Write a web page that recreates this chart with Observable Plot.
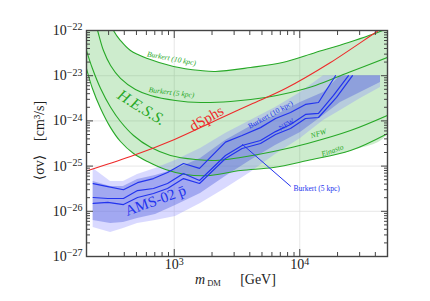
<!DOCTYPE html>
<html><head><meta charset="utf-8">
<script src="https://cdn.jsdelivr.net/npm/d3@7"></script>
<script src="https://cdn.jsdelivr.net/npm/@observablehq/plot@0.6"></script>
<style>body{margin:0;background:#fff;}</style>
</head><body><div id="chart"></div>
<script>
// ---------- data (m in GeV, sigma v in cm^3/s) ----------
const hessBurkert10M = [306, 328, 373, 448, 612, 987, 1619, 2132, 4050, 7286, 13350, 24450, 45610, 54800];
const hessBurkert10S = [1.66e-22, 1.0e-22, 6.0e-23, 3.6e-23, 2.4e-23, 1.6e-23, 1.3e-23, 1.24e-23, 1.52e-23, 1.96e-23, 3.26e-23, 5.43e-23, 1.0e-22, 1.29e-22];
const hessBurkert5M = [232, 245, 273, 311, 373, 491, 647, 1023, 1619, 2807, 5333, 8436, 13350, 24450, 50000];
const hessBurkert5S = [1.66e-22, 1.0e-22, 3.6e-23, 1.68e-23, 8.7e-24, 4.95e-24, 3.65e-24, 2.83e-24, 2.55e-24, 2.69e-24, 3.3e-24, 4.25e-24, 6.07e-24, 1.18e-23, 2.53e-23];
const hessNfwM = [200, 223, 259, 311, 373, 474, 647, 934, 1477, 2132, 3372, 6176, 11520, 25360, 50000];
const hessNfwS = [3.6e-23, 1.44e-23, 5.2e-24, 2.0e-24, 9.7e-25, 4.75e-25, 2.6e-25, 1.72e-25, 1.4e-25, 1.33e-25, 1.55e-25, 2.1e-25, 3.16e-25, 6.1e-25, 1.32e-24];
const hessEinastoM = [200, 223, 259, 311, 373, 474, 612, 852, 1229, 1945, 3372, 6176, 11520, 25360, 50000];
const hessEinastoS = [1.44e-23, 5.2e-24, 1.88e-24, 7.1e-25, 3.5e-25, 1.9e-25, 1.26e-25, 8.4e-26, 6.5e-26, 6.2e-26, 8.0e-26, 9.3e-26, 1.33e-25, 2.21e-25, 5.26e-25];

const dsphM = [200, 448, 1005, 2132, 4050, 7697, 17570, 42390, 54800];
const dsphS = [7.8e-26, 1.63e-25, 3.9e-25, 1.02e-24, 2.3e-24, 5.2e-24, 1.96e-23, 1.0e-22, 1.58e-22];

const amsBurkert10M = [226, 296, 394, 510, 683, 884, 1185, 1590, 2560, 3470, 4865, 6408, 8436, 11110, 14100, 19260];
const amsBurkert10S = [4.1e-26, 3.5e-26, 3.0e-26, 4.3e-26, 5.3e-26, 7.2e-26, 1.14e-25, 8.9e-26, 3.4e-25, 4.75e-25, 7.1e-25, 1.13e-24, 1.53e-24, 2.31e-24, 2.55e-24, 1.0e-23];
const amsBurkert5M = [226, 296, 394, 510, 683, 884, 1185, 1590, 2560, 3470, 4865, 6408, 8436, 11110, 14100, 18570, 24450];
const amsBurkert5S = [2.02e-26, 1.92e-26, 1.92e-26, 2.88e-26, 3.19e-26, 4.12e-26, 6.86e-26, 4.8e-26, 1.72e-25, 2.86e-25, 3.68e-25, 5.8e-25, 8.3e-25, 1.39e-24, 1.46e-24, 3.65e-24, 1.0e-23];
const amsNfwM = [226, 296, 394, 510, 683, 884, 1185, 1590, 2560, 3470, 4865, 6408, 8436, 11110, 14100, 19630, 26300];
const amsNfwS = [1.49e-26, 1.57e-26, 1.41e-26, 2.02e-26, 2.48e-26, 3.19e-26, 5.3e-26, 4.12e-26, 1.47e-25, 2.45e-25, 3.16e-25, 5.0e-25, 6.8e-25, 1.13e-24, 1.19e-24, 3.3e-24, 1.0e-23];

const bandM   = [226, 311, 394, 510, 709, 1023, 1619, 2561, 4050, 6408, 10130, 15460, 21110, 30460, 43970];
const outerLo = [4.38e-27, 3.4e-27, 4.16e-27, 5.37e-27, 6.25e-27, 7.67e-27, 1.49e-26, 3.19e-26, 7.2e-26, 1.81e-25, 4.08e-25, 1.02e-24, 1.7e-24, 3.13e-24, 5.48e-24];
const outerHi = [8.85e-26, 4.56e-26, 4.56e-26, 6.5e-26, 8.85e-26, 1.33e-25, 2.45e-25, 5.26e-25, 1.02e-24, 1.98e-24, 4.25e-24, 1e-23, 1e-23, 1e-23, 1e-23];
const innerLo = [6.25e-27, 5.37e-27, 5.65e-27, 6.93e-27, 8.49e-27, 1.34e-26, 2.48e-26, 5.9e-26, 1.33e-25, 2.86e-25, 5.53e-25, 1.32e-24, 2.55e-24, 4.25e-24, 7.08e-24];
const innerHi = [4.56e-26, 3.54e-26, 3.54e-26, 5.06e-26, 6.2e-26, 8.4e-26, 1.47e-25, 3.68e-25, 7.5e-25, 1.32e-24, 2.55e-24, 4.25e-24, 1e-23, 1e-23, 1e-23];

const calloutM = [3498, 8436];
const calloutS = [3.0e-25, 3.6e-26];

const greenLabelText = ["Burkert (10 kpc)", "Burkert (5 kpc)", "NFW", "Einasto"];
const greenLabelM = [951, 951, 14100, 18230];
const greenLabelS = [2.4e-23, 4.25e-24, 5.26e-25, 2.21e-25];
const greenLabelAngle = [11, 7, -17, -20];

const blueLabelText = ["Burkert (10 kpc)", "NFW"];
const blueLabelM = [5847, 7840];
const blueLabelS = [1.39e-24, 8.3e-25];
const blueLabelAngle = [-29, -30];

const xMajor = [1e3, 1e4];
const yMajor = [1e-27, 1e-26, 1e-25, 1e-24, 1e-23, 1e-22];
const xMinor = [200,300,400,500,600,700,800,900,2000,3000,4000,5000,6000,7000,8000,9000,20000,30000,40000,50000];
const yMinor = yMajor.slice(0, -1).flatMap(p => [2,3,4,5,6,7,8,9].map(k => k * p));

const X_DOMAIN = [200, 50000], Y_DOMAIN = [1e-27, 1e-22];

// ---------- build tables ----------
const zip = (ms, ss) => ms.map((m, i) => ({m, s: ss[i]}));
const hessB10 = zip(hessBurkert10M, hessBurkert10S);
const hessB5 = zip(hessBurkert5M, hessBurkert5S);
const hessNfw = zip(hessNfwM, hessNfwS);
const hessEin = zip(hessEinastoM, hessEinastoS);
const hessRegion = [{m: X_DOMAIN[0], s: hessBurkert10S[0]}, ...hessB10, ...hessEin.slice().reverse()];
const dsph = zip(dsphM, dsphS);
const band = bandM.map((m, i) => ({m, olo: outerLo[i], ohi: outerHi[i], ilo: innerLo[i], ihi: innerHi[i]}));
const greenLabels = greenLabelText.map((t, i) => ({t, m: greenLabelM[i], s: greenLabelS[i], a: greenLabelAngle[i]}));
const blueLabels = blueLabelText.map((t, i) => ({t, m: blueLabelM[i], s: blueLabelS[i], a: blueLabelAngle[i]}));
const callout = zip(calloutM, calloutS);

const GREEN = "#27a827", RED = "#ee2a2a", BLUE = "#2233ee", AXIS = "#444";
const fmt = d => "10^" + Math.round(Math.log10(d));

const chart = Plot.plot({
  width: 430, height: 301,
  marginLeft: 86, marginRight: 43, marginTop: 30, marginBottom: 45,
  style: {fontFamily: "'Liberation Serif','DejaVu Serif',serif", fontSize: "14px", background: "#fff", color: "#222"},
  x: {type: "log", domain: X_DOMAIN},
  y: {type: "log", domain: Y_DOMAIN},
  marks: [
    Plot.gridX(xMajor, {stroke: "#ddd", strokeOpacity: 1, strokeWidth: 0.7}),
    Plot.gridY(yMajor, {stroke: "#ddd", strokeOpacity: 1, strokeWidth: 0.7}),
    Plot.line(hessRegion, {x: "m", y: "s", fill: "#3cb43c", fillOpacity: 0.26, stroke: "none", curve: "catmull-rom", clip: true}),
    Plot.areaY(band, {x: "m", y1: "olo", y2: "ohi", fill: "#8c8cff", fillOpacity: 0.33, clip: true}),
    Plot.areaY(band, {x: "m", y1: "ilo", y2: "ihi", fill: "#5060dc", fillOpacity: 0.4, clip: true}),
    Plot.line(hessB10, {x: "m", y: "s", stroke: GREEN, strokeWidth: 1.1, curve: "catmull-rom", clip: true}),
    Plot.line(hessB5, {x: "m", y: "s", stroke: GREEN, strokeWidth: 1.1, curve: "catmull-rom", clip: true}),
    Plot.line(hessNfw, {x: "m", y: "s", stroke: GREEN, strokeWidth: 1.1, curve: "catmull-rom", clip: true}),
    Plot.line(hessEin, {x: "m", y: "s", stroke: GREEN, strokeWidth: 1.1, curve: "catmull-rom", clip: true}),
    Plot.line(dsph, {x: "m", y: "s", stroke: RED, strokeWidth: 1.1, curve: "catmull-rom", clip: true}),
    Plot.line(zip(amsBurkert10M, amsBurkert10S), {x: "m", y: "s", stroke: BLUE, strokeWidth: 1.2, clip: true}),
    Plot.line(zip(amsBurkert5M, amsBurkert5S), {x: "m", y: "s", stroke: BLUE, strokeWidth: 1.2, clip: true}),
    Plot.line(zip(amsNfwM, amsNfwS), {x: "m", y: "s", stroke: BLUE, strokeWidth: 1.2, clip: true}),
    Plot.line(callout, {x: "m", y: "s", stroke: BLUE, strokeWidth: 1}),
    Plot.text(greenLabels, {x: "m", y: "s", text: "t", rotate: "a", fill: GREEN, fontSize: 7.5, fontStyle: "italic"}),
    Plot.text(blueLabels, {x: "m", y: "s", text: "t", rotate: "a", fill: BLUE, fontSize: 7.5}),
    Plot.text(["Burkert (5 kpc)"], {x: () => 8913, y: () => 3.11e-26, text: d => d, fill: BLUE, fontSize: 7.5, textAnchor: "start"}),
    Plot.text(["H.E.S.S."], {x: () => 548, y: () => 1.98e-24, text: d => d, rotate: 32, fill: GREEN, fontSize: 16, fontStyle: "italic"}),
    Plot.text(["dSphs"], {x: () => 1807, y: () => 1.13e-24, text: d => d, rotate: -30, fill: RED, fontSize: 15}),
    Plot.text(["AMS-02 p\u0304"], {x: () => 709, y: () => 1.73e-26, text: d => d, rotate: -20, fill: BLUE, fontSize: 15}),
    Plot.frame({stroke: AXIS, strokeWidth: 1.4}),
    // ticks (inward)
    Plot.axisY(yMajor, {anchor: "left", tickSize: -7, fill: "none", stroke: AXIS, label: null}),
    Plot.axisY(yMinor, {anchor: "left", tickSize: -4, fill: "none", stroke: AXIS, label: null}),
    Plot.axisY(yMajor, {anchor: "right", tickSize: -7, fill: "none", stroke: AXIS, label: null}),
    Plot.axisY(yMinor, {anchor: "right", tickSize: -4, fill: "none", stroke: AXIS, label: null}),
    Plot.axisX(xMajor, {anchor: "bottom", tickSize: -7, fill: "none", stroke: AXIS, label: null}),
    Plot.axisX(xMinor, {anchor: "bottom", tickSize: -4, fill: "none", stroke: AXIS, label: null}),
    Plot.axisX(xMajor, {anchor: "top", tickSize: -7, fill: "none", stroke: AXIS, label: null}),
    Plot.axisX(xMinor, {anchor: "top", tickSize: -4, fill: "none", stroke: AXIS, label: null}),
    // tick labels
    Plot.axisY(yMajor, {anchor: "left", tickSize: 0, tickPadding: 4, tickFormat: fmt, fontSize: 14, fill: "#222", label: null}),
    Plot.axisX(xMajor, {anchor: "bottom", tickSize: 0, tickPadding: 3, tickFormat: fmt, fontSize: 14, fill: "#222", label: null}),
    // axis titles
    Plot.text(["[cm\u00B3/s]"], {frameAnchor: "left", y: () => 1.0e-24, dx: -47, rotate: -90, textAnchor: "middle", lineAnchor: "middle", text: d => d, fontSize: 14, fill: "#222"}),
    Plot.text(["\u27E8\u03C3v\u27E9"], {frameAnchor: "left", y: () => 9.3e-26, dx: -47, rotate: -90, textAnchor: "middle", lineAnchor: "middle", text: d => d, fontSize: 14, fill: "#222"}),
    Plot.text(["m"], {frameAnchor: "bottom", dx: -37, dy: 23, lineAnchor: "middle", text: d => d, fontSize: 14, fontStyle: "italic", fill: "#222"}),
    Plot.text(["DM"], {frameAnchor: "bottom", dx: -23, dy: 27, lineAnchor: "middle", text: d => d, fontSize: 8.5, fill: "#222"}),
    Plot.text(["[GeV]"], {frameAnchor: "bottom", dx: 21, dy: 23, lineAnchor: "middle", text: d => d, fontSize: 14, fill: "#222"})
  ]
});

// superscripts for "10^k" tick labels
chart.querySelectorAll("text").forEach(t => {
  const s = t.textContent;
  const m = /^10\^(-?\d+)$/.exec(s);
  if (!m) return;
  t.textContent = "10";
  const sup = document.createElementNS("http://www.w3.org/2000/svg", "tspan");
  sup.setAttribute("dy", "-0.45em");
  sup.setAttribute("font-size", "10px");
  sup.textContent = m[1].replace("-", "\u2212");
  t.appendChild(sup);
});
document.getElementById("chart").appendChild(chart);
</script>
</body></html>
